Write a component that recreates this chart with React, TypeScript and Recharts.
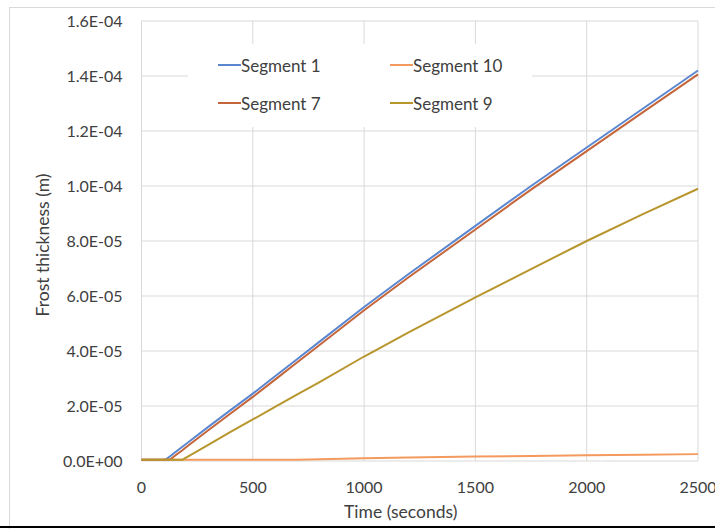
import { LineChart, Line, XAxis, YAxis, CartesianGrid } from 'recharts';

// sample times (s) shared by every series
const time = [0, 100, 110, 130, 150, 185, 200, 300, 400, 500, 600, 700, 800, 1000, 1200, 1500, 1750, 2000, 2250, 2500];

// frost thickness (m) per segment
const segment1 = [5e-7, 5e-7, 6e-7, 1.8e-6, 3.1e-6, 5.3e-6, 6.2e-6, 1.24e-5, 1.85e-5, 2.45e-5, 3.08e-5, 3.71e-5, 4.34e-5, 5.6e-5, 6.8e-5, 8.55e-5, 1.0e-4, 1.14e-4, 1.28e-4, 1.42e-4];
const segment10 = [5e-7, 5e-7, 5e-7, 5e-7, 5e-7, 5e-7, 5e-7, 5e-7, 5e-7, 5e-7, 5e-7, 5e-7, 6e-7, 1.0e-6, 1.25e-6, 1.6e-6, 1.85e-6, 2.05e-6, 2.3e-6, 2.5e-6];
const segment7 = [5e-7, 5e-7, 5e-7, 6e-7, 1.9e-6, 4.0e-6, 5.0e-6, 1.12e-5, 1.73e-5, 2.33e-5, 2.96e-5, 3.59e-5, 4.22e-5, 5.48e-5, 6.68e-5, 8.42e-5, 9.87e-5, 1.127e-4, 1.267e-4, 1.406e-4];
const segment9 = [5e-7, 5e-7, 5e-7, 5e-7, 5e-7, 5e-7, 1.2e-6, 5.9e-6, 1.06e-5, 1.51e-5, 1.97e-5, 2.42e-5, 2.87e-5, 3.8e-5, 4.68e-5, 5.95e-5, 6.98e-5, 8.0e-5, 8.97e-5, 9.9e-5];

const xTicks = [0, 500, 1000, 1500, 2000, 2500];
const yTicks = [0, 2e-5, 4e-5, 6e-5, 8e-5, 1e-4, 1.2e-4, 1.4e-4, 1.6e-4];

const series = [
  { key: 'seg1', name: 'Segment 1', values: segment1, color: '#5b87d0' },
  { key: 'seg10', name: 'Segment 10', values: segment10, color: '#f59a5e' },
  { key: 'seg7', name: 'Segment 7', values: segment7, color: '#c4653a' },
  { key: 'seg9', name: 'Segment 9', values: segment9, color: '#b8962e' },
];

const data = time.map((t, i) => {
  const row: Record<string, number> = { t };
  series.forEach((s) => {
    row[s.key] = s.values[i];
  });
  return row;
});

// Excel style scientific label: 1.6E-04, 0.0E+00
const sci = (v: number) => {
  if (v === 0) return '0.0E+00';
  const [m, e] = v.toExponential(1).split('e');
  const n = parseInt(e, 10);
  return `${m}E${n < 0 ? '-' : '+'}${String(Math.abs(n)).padStart(2, '0')}`;
};

const font = 'Lato, "Open Sans", sans-serif';
const textColor = '#404040';

export default function App() {
  return (
    <div
      style={{
        position: 'absolute',
        left: 0,
        top: 0,
        width: 715,
        height: 529,
        background: '#fff',
        fontFamily: font,
        overflow: 'hidden',
      }}
    >
      {/* chart frame */}
      <div
        style={{
          position: 'absolute',
          left: 9,
          top: 7,
          width: 720,
          height: 540,
          borderTop: '1px solid #d9d9d9',
          borderLeft: '1px solid #d9d9d9',
        }}
      />
      <div style={{ position: 'absolute', left: 0, top: 526, width: 715, height: 2, background: '#000' }} />

      <LineChart
        width={715}
        height={529}
        data={data}
        margin={{ top: 21, right: 17, bottom: 0, left: 0 }}
        style={{ position: 'absolute', left: 0, top: 0 }}
      >
        <CartesianGrid stroke="#d9d9d9" strokeWidth={1} />
        <XAxis
          dataKey="t"
          type="number"
          domain={[0, 2500]}
          ticks={xTicks}
          height={68}
          axisLine={false}
          tickLine={false}
          tickSize={0}
          tickMargin={21}
          tick={{ fill: textColor, fontSize: 16, fontFamily: font }}
          label={{ value: 'Time (seconds)', position: 'insideBottom', offset: 11, dx: -19, fill: textColor, fontSize: 17.5, fontFamily: font }}
        />
        <YAxis
          type="number"
          domain={[0, 1.6e-4]}
          ticks={yTicks}
          width={141.5}
          axisLine={false}
          tickLine={false}
          tickSize={0}
          tickMargin={19}
          tickFormatter={sci}
          tick={{ fill: textColor, fontSize: 16, fontFamily: font }}
          label={{ value: 'Frost thickness (m)', angle: -90, position: 'center', dx: -28, dy: 4, fill: textColor, fontSize: 17.5, fontFamily: font }}
        />
        {series.map((s) => (
          <Line
            key={s.key}
            type="linear"
            dataKey={s.key}
            name={s.name}
            stroke={s.color}
            strokeWidth={2}
            dot={false}
            isAnimationActive={false}
          />
        ))}
      </LineChart>

      {/* legend block sits over the grid */}
      <div style={{ position: 'absolute', left: 188, top: 44, width: 344, height: 83, background: '#fff' }}>
        {series.map((s, i) => (
          <div
            key={s.key}
            style={{
              position: 'absolute',
              left: 30 + (i % 2) * 172,
              top: 11 + Math.floor(i / 2) * 38,
              display: 'flex',
              alignItems: 'center',
              height: 20,
              fontSize: 17,
              color: textColor,
              whiteSpace: 'nowrap',
            }}
          >
            <span style={{ display: 'inline-block', width: 23, height: 2, background: s.color }} />
            <span>{s.name}</span>
          </div>
        ))}
      </div>
    </div>
  );
}
